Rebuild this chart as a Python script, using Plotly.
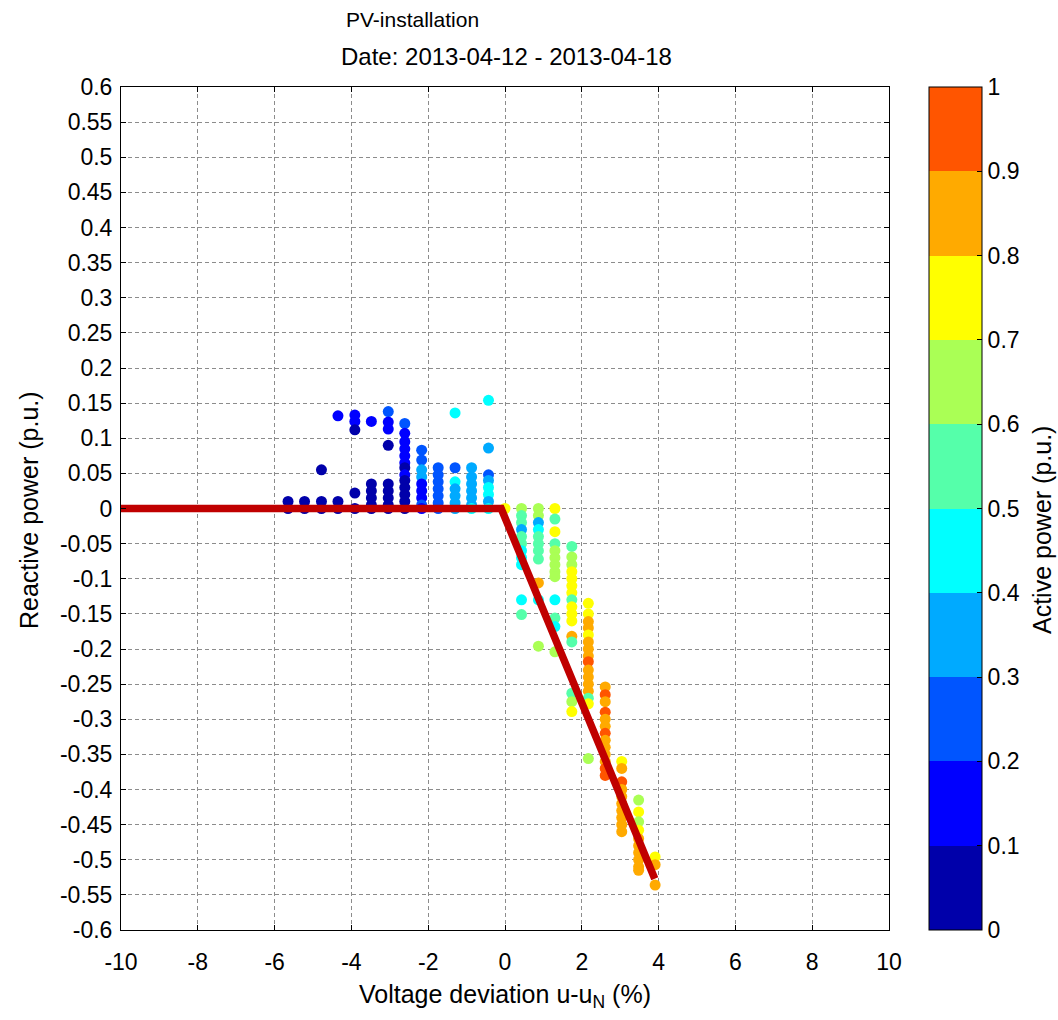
import plotly.graph_objects as go

# ---- data (voltage deviation %, reactive power p.u., active power p.u.) ----
u_pct = [
    -5.65, -5.65,
    -5.22, -5.22,
    -4.78, -4.78, -4.78,
    -4.35, -4.35, -4.35,
    -3.91, -3.91, -3.91, -3.91, -3.91,
    -3.48, -3.48, -3.48, -3.48, -3.48, -3.48,
    -3.04, -3.04, -3.04, -3.04, -3.04, -3.04, -3.04, -3.04, -3.04,
    -2.61, -2.61, -2.61, -2.61, -2.61, -2.61, -2.61, -2.61, -2.61, -2.61, -2.61, -2.61, -2.61,
    -2.17, -2.17, -2.17, -2.17, -2.17, -2.17, -2.17, -2.17, -2.17,
    -1.74, -1.74, -1.74, -1.74, -1.74, -1.74, -1.74,
    -1.30, -1.30, -1.30, -1.30, -1.30, -1.30, -1.30,
    -0.87, -0.87, -0.87, -0.87, -0.87, -0.87, -0.87,
    -0.43, -0.43, -0.43, -0.43, -0.43, -0.43, -0.43, -0.43,
    0.00,
    0.43, 0.43, 0.43, 0.43, 0.43, 0.43, 0.43, 0.43, 0.43, 0.43, 0.43,
    0.87, 0.87, 0.87, 0.87, 0.87, 0.87, 0.87, 0.87, 0.87, 0.87, 0.87,
    1.30, 1.30, 1.30, 1.30, 1.30, 1.30, 1.30, 1.30, 1.30, 1.30, 1.30, 1.30, 1.30,
    1.74, 1.74, 1.74, 1.74, 1.74, 1.74, 1.74, 1.74, 1.74, 1.74, 1.74, 1.74, 1.74, 1.74, 1.74, 1.74,
    2.17, 2.17, 2.17, 2.17, 2.17, 2.17, 2.17, 2.17, 2.17, 2.17, 2.17, 2.17, 2.17, 2.17, 2.17, 2.17,
    2.61, 2.61, 2.61, 2.61, 2.61, 2.61, 2.61, 2.61, 2.61, 2.61, 2.61, 2.61, 2.61,
    3.04, 3.04, 3.04, 3.04, 3.04, 3.04, 3.04, 3.04, 3.04, 3.04,
    3.48, 3.48, 3.48, 3.48, 3.48, 3.48, 3.48, 3.48, 3.48, 3.48,
    3.91, 3.91, 3.91,
]
q_pu = [
    0.010, 0.000,
    0.010, 0.000,
    0.055, 0.010, 0.000,
    0.132, 0.010, 0.000,
    0.133, 0.124, 0.112, 0.022, 0.000,
    0.124, 0.035, 0.025, 0.015, 0.005, 0.000,
    0.138, 0.123, 0.113, 0.090, 0.035, 0.025, 0.015, 0.005, 0.000,
    0.121, 0.107, 0.095, 0.085, 0.075, 0.065, 0.058, 0.048, 0.040, 0.030, 0.020, 0.010, 0.000,
    0.083, 0.069, 0.055, 0.045, 0.035, 0.025, 0.015, 0.005, 0.000,
    0.058, 0.048, 0.038, 0.028, 0.018, 0.008, 0.000,
    0.136, 0.058, 0.038, 0.028, 0.018, 0.008, 0.000,
    0.058, 0.045, 0.035, 0.025, 0.015, 0.005, 0.000,
    0.154, 0.086, 0.048, 0.040, 0.030, 0.020, 0.010, 0.000,
    0.000,
    0.000, -0.010, -0.020, -0.030, -0.040, -0.050, -0.060, -0.070, -0.080, -0.130, -0.151,
    0.000, -0.010, -0.020, -0.030, -0.040, -0.050, -0.060, -0.072, -0.106, -0.130, -0.196,
    0.000, -0.015, -0.033, -0.050, -0.060, -0.070, -0.080, -0.090, -0.097, -0.130, -0.156, -0.168, -0.204,
    -0.054, -0.069, -0.080, -0.090, -0.100, -0.110, -0.120, -0.130, -0.140, -0.150, -0.160, -0.182, -0.190, -0.263, -0.275, -0.289,
    -0.135, -0.150, -0.161, -0.170, -0.180, -0.190, -0.200, -0.210, -0.218, -0.230, -0.240, -0.250, -0.260, -0.270, -0.278, -0.356,
    -0.254, -0.265, -0.275, -0.290, -0.300, -0.310, -0.320, -0.330, -0.340, -0.350, -0.360, -0.370, -0.380,
    -0.360, -0.370, -0.389, -0.400, -0.410, -0.420, -0.430, -0.440, -0.450, -0.460,
    -0.415, -0.432, -0.446, -0.458, -0.470, -0.480, -0.490, -0.500, -0.510, -0.515,
    -0.496, -0.507, -0.536,
]
p_pu = [
    0.04, 0.03,
    0.05, 0.04,
    0.06, 0.05, 0.04,
    0.13, 0.06, 0.05,
    0.12, 0.14, 0.09, 0.06, 0.05,
    0.15, 0.06, 0.08, 0.04, 0.07, 0.05,
    0.27, 0.18, 0.16, 0.08, 0.06, 0.08, 0.04, 0.07, 0.05,
    0.26, 0.17, 0.15, 0.18, 0.16, 0.19, 0.08, 0.18, 0.05, 0.07, 0.09, 0.06, 0.08,
    0.24, 0.22, 0.37, 0.33, 0.18, 0.16, 0.14, 0.21, 0.19,
    0.25, 0.27, 0.22, 0.24, 0.28, 0.23, 0.20,
    0.47, 0.28, 0.46, 0.36, 0.33, 0.38, 0.35,
    0.36, 0.38, 0.34, 0.37, 0.39, 0.33, 0.42,
    0.47, 0.36, 0.27, 0.33, 0.44, 0.46, 0.38, 0.45,
    0.76,
    0.64, 0.57, 0.56, 0.38, 0.55, 0.53, 0.48, 0.44, 0.46, 0.47, 0.56,
    0.66, 0.62, 0.37, 0.42, 0.56, 0.55, 0.58, 0.54, 0.86, 0.45, 0.67,
    0.77, 0.57, 0.76, 0.58, 0.61, 0.66, 0.67, 0.64, 0.68, 0.46, 0.58, 0.48, 0.66,
    0.56, 0.63, 0.67, 0.72, 0.76, 0.74, 0.78, 0.57, 0.77, 0.75, 0.73, 0.84, 0.56, 0.57, 0.65, 0.76,
    0.77, 0.79, 0.86, 0.84, 0.78, 0.85, 0.87, 0.83, 0.93, 0.88, 0.82, 0.86, 0.84, 0.56, 0.75, 0.66,
    0.83, 0.92, 0.86, 0.94, 0.88, 0.85, 0.93, 0.86, 0.84, 0.87, 0.85, 0.94, 0.91,
    0.78, 0.86, 0.93, 0.85, 0.87, 0.84, 0.86, 0.83, 0.85, 0.88,
    0.66, 0.77, 0.68, 0.74, 0.84, 0.86, 0.85, 0.83, 0.87, 0.84,
    0.76, 0.85, 0.86,
]

# Q(U) characteristic
char_u = [-10.0, -0.1, 3.9]
char_q = [0.0, 0.0, -0.527]

# tick labels
x_ticks = [-10, -8, -6, -4, -2, 0, 2, 4, 6, 8, 10]
x_ticktext = ["-10", "-8", "-6", "-4", "-2", "0", "2", "4", "6", "8", "10"]
y_ticks = [0.6, 0.55, 0.5, 0.45, 0.4, 0.35, 0.3, 0.25, 0.2, 0.15, 0.1, 0.05, 0,
           -0.05, -0.1, -0.15, -0.2, -0.25, -0.3, -0.35, -0.4, -0.45, -0.5, -0.55, -0.6]
y_ticktext = ["0.6", "0.55", "0.5", "0.45", "0.4", "0.35", "0.3", "0.25", "0.2", "0.15", "0.1", "0.05", "0",
              "-0.05", "-0.1", "-0.15", "-0.2", "-0.25", "-0.3", "-0.35", "-0.4", "-0.45", "-0.5", "-0.55", "-0.6"]
cb_ticks = [0, 0.1, 0.2, 0.3, 0.4, 0.5, 0.6, 0.7, 0.8, 0.9, 1]
cb_ticktext = ["0", "0.1", "0.2", "0.3", "0.4", "0.5", "0.6", "0.7", "0.8", "0.9", "1"]

# discrete jet-like colormap (10 levels)
jet10 = ["#0000AA", "#0000FF", "#0055FF", "#00AAFF", "#00FFFF",
         "#55FFAA", "#AAFF55", "#FFFF00", "#FFAA00", "#FF5500"]
colorscale = []
for i, c in enumerate(jet10):
    colorscale.append([i / 10, c])
    colorscale.append([(i + 1) / 10, c])

FONT = "Arial, Liberation Sans, sans-serif"
FS = 23

# plot area in pixels
W, H = 1058, 1020
L, R, T, B = 121, 889, 87, 930
pw, ph = R - L, B - T

fig = go.Figure()
fig.add_trace(go.Scatter(
    x=u_pct, y=q_pu, mode="markers",
    marker=dict(size=11, color=p_pu, colorscale=colorscale, cmin=0, cmax=1,
                line=dict(width=0),
                colorbar=dict(
                    x=(929 - L) / pw, xanchor="left", xpad=0, ypad=0,
                    y=0.5, yanchor="middle", len=1, lenmode="fraction",
                    thickness=53, thicknessmode="pixels",
                    outlinecolor="black", outlinewidth=1,
                    tickvals=cb_ticks, ticktext=cb_ticktext,
                    ticks="inside", ticklen=5, tickcolor="black",
                    tickfont=dict(family=FONT, size=FS, color="black"),
                )),
    showlegend=False, hoverinfo="skip",
))
fig.add_trace(go.Scatter(
    x=char_u, y=char_q, mode="lines",
    line=dict(color="#C00000", width=7.5),
    showlegend=False, hoverinfo="skip",
))

axis_common = dict(
    showline=True, linecolor="black", linewidth=1, mirror="ticks",
    ticks="inside", ticklen=5, tickcolor="black",
    showgrid=True, gridcolor="rgb(140,140,140)", gridwidth=1, griddash="4px,3px",
    zeroline=False,
    tickfont=dict(family=FONT, size=FS, color="black"),
)
fig.update_xaxes(range=[-10, 10], tickvals=x_ticks, ticktext=x_ticktext,
                 ticklabelstandoff=11, **axis_common)
fig.update_yaxes(range=[-0.6, 0.6], tickvals=y_ticks, ticktext=y_ticktext,
                 ticklabelstandoff=3, **axis_common)

def px2paper(x, y):
    return (x - L) / pw, (B - y) / ph

annos = []
for text, (x, y), ang, fs in [
    ("PV-installation", (412, 20), 0, 21),
    ("Date: 2013-04-12 - 2013-04-18", (506, 57), 0, 24),
    ("Voltage deviation u-u<sub>N</sub> (%)", (505, 996), 0, 25),
    ("Reactive power (p.u.)", (29, 510), -90, 25),
    ("Active power (p.u.)", (1042, 530), -90, 25),
]:
    xp, yp = px2paper(x, y)
    annos.append(dict(text=text, x=xp, y=yp, xref="paper", yref="paper",
                      xanchor="center", yanchor="middle", showarrow=False,
                      textangle=ang, font=dict(family=FONT, size=fs, color="black")))

fig.update_layout(
    width=W, height=H,
    margin=dict(l=L, r=W - R, t=T, b=H - B, pad=0),
    paper_bgcolor="white", plot_bgcolor="white",
    annotations=annos,
)

fig.write_html("out.html", config={"displayModeBar": False},
               post_script="document.body.style.margin='0px';document.body.style.overflow='hidden';")
